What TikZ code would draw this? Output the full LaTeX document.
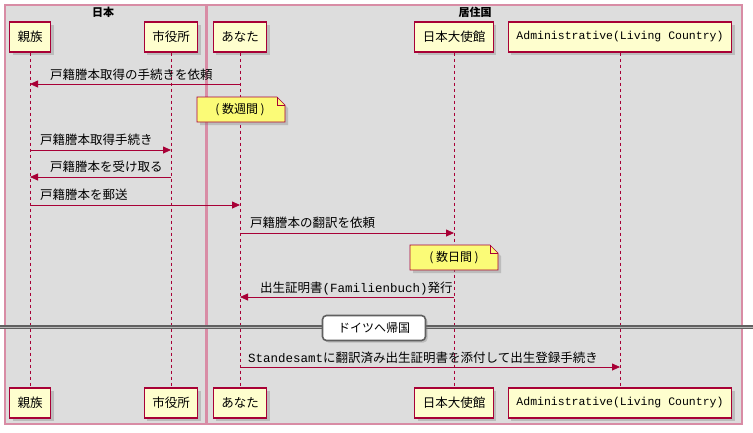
\documentclass[tikz,border=0pt]{standalone}
\usepackage{fontspec}
\setmainfont{Noto Sans CJK JP}
\newfontfamily\latfont{Liberation Mono}
\usetikzlibrary{shadows,arrows.meta}

\definecolor{umlrot}{HTML}{A80036}
\definecolor{umlteil}{HTML}{FEFECE}
\definecolor{umlnotiz}{HTML}{FBFB77}
\definecolor{umlbox}{HTML}{DDDDDD}

\tikzset{
    teilnehmer/.style={draw=umlrot, fill=umlteil, line width=1.1pt, minimum height=30pt,
        inner xsep=8pt, font=\fontsize{12.5}{14}\selectfont,
        drop shadow={shadow xshift=3pt, shadow yshift=-3pt, opacity=0.35}},
    lebenslinie/.style={umlrot, dash pattern=on 3pt off 3pt, line width=0.6pt},
    nachricht/.style={umlrot, line width=0.8pt, -{Triangle[length=8pt,width=7pt]}},
    meldung/.style={font=\fontsize{12.5}{14}\selectfont, anchor=west, inner sep=0pt},
    notiz/.style={draw=umlrot, fill=umlnotiz, line width=0.7pt,
        drop shadow={shadow xshift=3pt, shadow yshift=-3pt, opacity=0.35}},
    gruppe/.style={draw=umlrot!45, fill=umlbox, line width=1.2pt}
}

\begin{document}
\begin{tikzpicture}[x=1pt,y=1pt]
    \useasboundingbox (0,0) rectangle (753,-432);

    % Gruppen
    \draw[gruppe] (5,-5) rectangle (206,-424);
    \draw[gruppe] (207,-5) rectangle (742,-424);
    \node[font=\fontsize{11}{12}\selectfont\bfseries] (japan) at (103,-12) {日本};
    \node[font=\fontsize{11}{12}\selectfont\bfseries] (ausland) at (475,-12) {居住国};

    % Teilnehmer oben
    \node[teilnehmer] (verw) at (30,-37) {親族};
    \node[teilnehmer] (rathaus) at (171,-37) {市役所};
    \node[teilnehmer] (du) at (240,-37) {あなた};
    \node[teilnehmer] (botschaft) at (454,-37) {日本大使館};
    \node[teilnehmer, font=\fontsize{11.5}{13}\selectfont\latfont] (amt) at (620,-37) {Administrative(Living Country)};

    % Teilnehmer unten
    \node[teilnehmer] (verwU) at (30,-403) {親族};
    \node[teilnehmer] (rathausU) at (171,-403) {市役所};
    \node[teilnehmer] (duU) at (240,-403) {あなた};
    \node[teilnehmer] (botschaftU) at (454,-403) {日本大使館};
    \node[teilnehmer, font=\fontsize{11.5}{13}\selectfont\latfont] (amtU) at (620,-403) {Administrative(Living Country)};

    % Lebenslinien
    \foreach \t in {verw,rathaus,du,botschaft,amt} {
        \draw[lebenslinie] (\t.south) -- (\t U.north);
    }

    % Punkte auf den Lebenslinien
    \coordinate (du1) at (240,-84);   \coordinate (verw1) at (30,-84);
    \coordinate (verw3) at (30,-150); \coordinate (rathaus3) at (171,-150);
    \coordinate (rathaus4) at (171,-177); \coordinate (verw4) at (30,-177);
    \coordinate (verw5) at (30,-205); \coordinate (du5) at (240,-205);
    \coordinate (du6) at (240,-233); \coordinate (botschaft6) at (454,-233);
    \coordinate (botschaft8) at (454,-297); \coordinate (du8) at (240,-297);
    \coordinate (du10) at (240,-367); \coordinate (amt10) at (620,-367);

    % Nachrichten
    \draw[nachricht] (du1) -- (verw1);
    \node[meldung] (m1) at (50,-75) {戸籍謄本取得の手続きを依頼};

    \draw[notiz] (197,-97) -- (277,-97) -- (285,-105) -- (285,-122) -- (197,-122) -- cycle;
    \draw[umlrot, line width=0.6pt] (277,-97) -- (277,-105) -- (285,-105);
    \node[font=\fontsize{12}{13}\selectfont] (notiz1) at (240,-110) {( 数週間 )};

    \draw[nachricht] (verw3) -- (rathaus3);
    \node[meldung] (m3) at (40,-140) {戸籍謄本取得手続き};

    \draw[nachricht] (rathaus4) -- (verw4);
    \node[meldung] (m4) at (50,-167) {戸籍謄本を受け取る};

    \draw[nachricht] (verw5) -- (du5);
    \node[meldung] (m5) at (40,-195) {戸籍謄本を郵送};

    \draw[nachricht] (du6) -- (botschaft6);
    \node[meldung] (m6) at (250,-223) {戸籍謄本の翻訳を依頼};

    \draw[notiz] (410,-245) -- (490,-245) -- (498,-253) -- (498,-270) -- (410,-270) -- cycle;
    \draw[umlrot, line width=0.6pt] (490,-245) -- (490,-253) -- (498,-253);
    \node[font=\fontsize{12}{13}\selectfont] (notiz2) at (454,-258) {( 数日間 )};

    \draw[nachricht] (botschaft8) -- (du8);
    \node[meldung] (m8) at (260,-289) {出生証明書{\latfont (Familienbuch)}発行};

    % Trenner
    \draw[gray!75!black, line width=1.4pt, double=gray!55, double distance=1pt] (0,-327) -- (753,-327);
    \node[draw=gray!75!black, line width=1.6pt, fill=white, rounded corners=4pt,
        minimum width=103pt, minimum height=25pt, font=\fontsize{12}{13}\selectfont,
        drop shadow={shadow xshift=2pt, shadow yshift=-2pt, opacity=0.35}] (trenner) at (374,-328) {ドイツへ帰国};

    \draw[nachricht] (du10) -- (amt10);
    \node[meldung] (m10) at (248,-358) {{\latfont Standesamt}に翻訳済み出生証明書を添付して出生登録手続き};
\end{tikzpicture}
\end{document}
